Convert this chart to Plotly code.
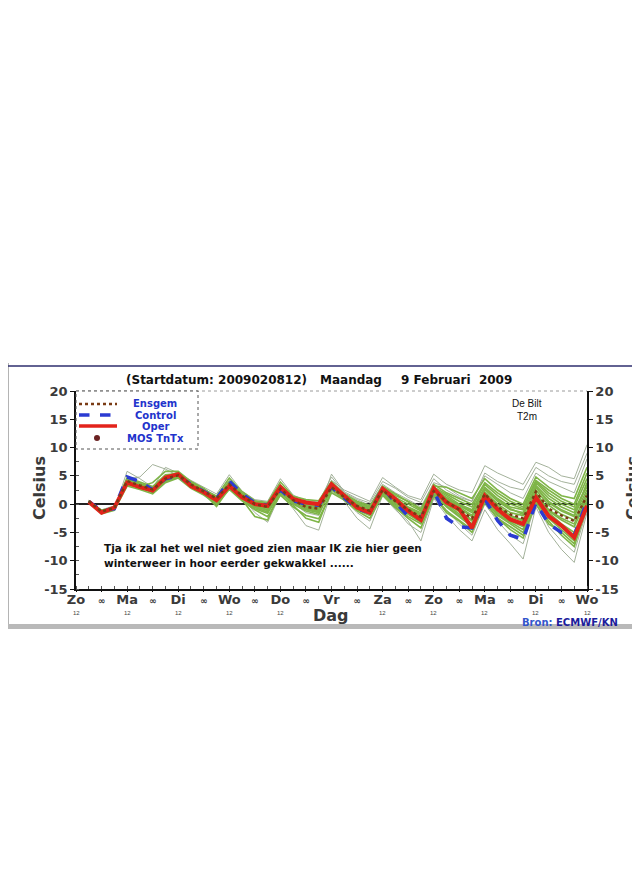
import plotly.graph_objects as go

# tijdas: uren na zondag 12 UTC (6-uurlijks)
hours = list(range(6, 241, 6))
day_hours = list(range(0, 241, 24))
day_labels = ['Zo', 'Ma', 'Di', 'Wo', 'Do', 'Vr', 'Za', 'Zo', 'Ma', 'Di', 'Wo']
night_hours = list(range(12, 240, 24))
y_ticks = [20, 15, 10, 5, 0, -5, -10, -15]

oper = [0.4, -1.5, -0.6, 3.8, 3.0, 2.4, 4.7, 5.3, 3.2, 2.1, 0.7, 3.2, 1.2, 0.0, -0.3, 3.0, 0.9, 0.3, 0.0, 3.5,
        1.5, -0.6, -1.5, 2.7, 0.9, -1.2, -2.8, 2.8, 0.3, -0.9, -4.2, 1.5, -0.9, -2.7, -3.5, 1.2, -2.1, -3.8, -5.9, -0.3]
control = [0.5, -1.2, -0.8, 4.8, 4.0, 2.5, 4.5, 5.0, 3.5, 2.3, 1.0, 4.1, 1.8, 0.2, -0.2, 2.5, 0.6, 0.0, -0.2, 3.0,
           1.0, -0.8, -1.5, 2.9, 0.3, -2.1, -2.5, 2.4, -2.5, -4.0, -4.2, 0.9, -2.9, -5.5, -6.2, 0.2, -3.5, -5.0, -5.5, 0.5]
ensgem = [0.5, -1.3, -0.7, 4.1, 3.3, 2.6, 4.5, 5.1, 3.5, 2.3, 1.0, 3.5, 1.5, 0.0, -0.5, 2.7, 0.7, -0.5, -0.8, 3.0,
          1.2, -0.3, -1.2, 2.5, 0.5, -1.0, -2.3, 2.3, 0.5, -1.0, -2.5, 1.8, -0.5, -1.8, -2.5, 2.2, -0.8, -2.0, -3.0, 1.5]

# ensemble leden (grijsgroen = uitschieters)
members_outlier = [
    [0.6, -1.2, -0.5, 4.5, 4.8, 7.0, 6.2, 5.0, 3.2, 2.0, 0.5, 3.0, 1.2, -0.5, -1.2, 2.2, 0.2, -1.5, -2.0, 2.8,
     0.5, -2.5, -4.4, 1.5, -1.0, -3.0, -6.5, 1.0, -2.0, -4.5, -6.5, -1.0, -4.5, -7.0, -9.7, -0.5, -5.0, -8.0, -10.3, -1.5],
    [0.5, -1.5, -0.9, 5.8, 4.5, 3.0, 5.0, 5.6, 3.8, 2.6, 1.5, 4.2, 2.0, 0.4, 0.2, 3.5, 1.0, 0.3, 0.0, 4.2,
     2.5, 1.5, 0.5, 4.7, 3.0, 1.5, 0.8, 5.3, 3.5, 2.5, 2.0, 6.8, 5.5, 4.5, 3.5, 7.4, 6.5, 5.0, 4.5, 10.5],
    [0.5, -1.1, -0.6, 4.6, 3.6, 2.8, 6.5, 5.5, 4.2, 3.0, 1.8, 5.2, 2.3, 0.8, 0.5, 4.5, 1.6, 0.6, 0.4, 4.8,
     2.0, 0.8, -0.2, 3.5, 2.0, 0.8, -0.5, 3.8, 3.0, 1.5, 0.5, 5.0, 3.5, 2.0, 1.0, 5.5, 4.0, 3.0, 2.0, 8.0],
    [0.5, -1.4, -0.5, 4.1, 3.2, 2.3, 4.5, 5.1, 3.4, 2.2, 0.9, 3.4, 1.3, -0.2, -0.8, 2.8, 0.6, -0.6, -1.0, 5.3,
     2.2, 1.0, 0.2, 4.0, 2.8, 1.2, 0.3, 4.5, 2.5, 1.2, 0.5, 5.5, 4.0, 3.0, 2.5, 6.5, 5.0, 4.0, 3.5, 9.0],
    [0.7, -1.0, -0.3, 3.8, 3.2, 2.4, 4.2, 5.0, 3.4, 2.2, 0.6, 3.3, 1.2, -1.5, -3.2, 1.8, -0.8, -3.8, -4.6, 2.2,
     0.8, -1.5, -3.0, 1.8, -0.8, -3.5, -5.0, 1.2, -1.0, -3.5, -5.5, 0.0, -3.0, -5.5, -7.0, 0.2, -4.0, -6.5, -8.5, -1.0],
]
members = [
    [0.4, -1.4, -0.4, 3.4, 3.0, 2.0, 4.0, 4.8, 3.0, 1.8, 0.2, 3.0, 1.0, -0.8, -1.6, 2.0, -0.2, -2.5, -3.2, 2.5,
     1.0, -1.0, -2.0, 2.0, -0.5, -2.2, -3.5, 1.5, -1.5, -3.0, -5.0, 0.5, -2.5, -4.5, -6.0, 0.5, -3.0, -5.5, -7.5, -0.5],
    [0.3, -1.6, -1.0, 4.2, 3.5, 2.7, 4.6, 5.2, 3.6, 2.4, 1.2, 3.8, 1.8, 0.2, -0.3, 3.2, 1.0, -0.2, -0.5, 3.6,
     1.3, 0.0, -0.8, 2.8, 1.0, -0.5, -1.5, 2.8, 1.5, 0.0, -1.0, 3.0, 1.0, -0.5, -1.0, 4.0, 2.0, 0.5, -0.5, 4.5],
    [0.5, -1.3, -0.8, 3.6, 2.8, 2.2, 4.3, 4.9, 3.1, 1.9, -0.4, 2.8, 0.8, -2.2, -2.8, 2.4, 0.0, -1.2, -1.8, 2.9,
     1.0, -0.5, -1.6, 2.3, 0.3, -1.5, -3.0, 2.0, 0.0, -1.8, -3.5, 1.2, -1.5, -3.0, -4.0, 1.5, -1.5, -3.5, -5.0, 0.5],
    [0.6, -1.4, -0.7, 4.4, 3.4, 2.5, 4.8, 5.4, 3.7, 2.6, 1.3, 3.6, 1.6, 0.1, -0.6, 3.0, 0.8, -0.4, -0.9, 3.3,
     1.4, 0.2, -0.6, 3.0, 1.5, 0.5, -0.8, 3.2, 3.0, 2.0, 1.0, 4.5, 2.5, 1.0, 0.0, 4.8, 3.0, 1.5, 1.0, 6.5],
    [0.4, -1.2, -0.6, 3.9, 3.1, 3.8, 5.8, 5.8, 4.0, 2.8, 1.0, 3.4, 1.4, -0.3, -1.0, 2.6, 0.4, -0.8, -1.2, 3.1,
     1.2, -0.2, -1.0, 2.4, 0.6, -0.8, -2.0, 2.5, 0.8, -0.5, -2.0, 2.2, 0.0, -1.5, -2.0, 3.0, 0.5, -1.0, -2.0, 2.5],
    [0.5, -1.5, -0.8, 4.0, 3.3, 2.6, 4.4, 5.0, 3.3, 2.1, 0.8, 3.1, 1.1, -0.6, -1.4, 2.3, 0.3, -1.0, -1.5, 2.6,
     0.9, -0.8, -1.8, 2.1, -0.2, -1.8, -3.2, 1.8, -0.5, -2.2, -4.0, 0.8, -2.0, -3.5, -5.0, 1.0, -2.5, -4.5, -6.5, -0.8],
    [0.6, -1.1, -0.5, 4.3, 3.5, 2.9, 4.7, 5.3, 3.6, 2.5, 1.4, 4.6, 2.2, 0.6, 0.3, 3.9, 1.4, 0.8, 0.6, 4.0,
     1.8, 0.5, -0.3, 3.2, 1.8, 0.3, -1.0, 3.5, 2.0, 1.0, 0.0, 3.8, 2.0, 0.5, -0.5, 4.2, 2.5, 1.0, 0.0, 5.5],
    [0.4, -1.7, -1.1, 3.2, 2.6, 1.8, 3.8, 4.6, 2.8, 1.6, 0.0, 2.6, 0.6, -1.0, -2.2, 1.6, -0.5, -2.0, -2.6, 2.0,
     0.7, -1.2, -2.5, 1.6, -0.6, -2.5, -4.2, 1.4, -1.2, -2.8, -4.5, 0.3, -2.5, -4.0, -5.5, 0.0, -3.5, -5.0, -7.0, 0.0],
    [0.5, -1.3, -0.7, 4.7, 3.9, 3.1, 5.2, 5.4, 3.9, 2.7, 1.1, 3.7, 1.7, 0.3, -0.4, 2.9, 0.9, 0.0, -0.3, 3.8,
     1.5, 0.0, -0.9, 2.6, 0.8, -0.6, -1.8, 2.6, 1.0, -0.3, -1.5, 2.6, 0.5, -1.0, -1.5, 3.3, 1.0, -0.5, -1.5, 3.5],
    [0.6, -1.2, -0.6, 3.5, 2.9, 2.4, 4.1, 4.7, 3.2, 2.0, 0.4, 3.2, 1.5, -0.4, -1.1, 2.5, 0.5, -0.9, -1.4, 2.7,
     1.1, -0.6, -1.4, 2.2, 0.2, -1.2, -2.5, 2.1, 0.2, -1.2, -2.8, 1.5, -1.0, -2.5, -3.5, 2.0, -1.0, -2.5, -3.5, 1.5],
    [0.4, -1.5, -0.9, 4.5, 3.7, 2.8, 4.9, 5.6, 3.8, 2.4, 1.1, 4.0, 1.9, 0.5, 0.0, 3.3, 1.2, 0.2, -0.1, 3.4,
     1.3, -0.1, -1.1, 2.7, 0.9, -0.9, -2.2, 2.4, 0.6, -0.8, -2.2, 2.0, -0.3, -2.0, -2.8, 2.5, -0.2, -1.8, -2.8, 2.0],
    [0.5, -1.3, -0.6, 4.2, 3.4, 2.7, 4.6, 5.0, 3.4, 2.3, 1.0, 3.6, 1.5, 0.0, -0.5, 2.8, 0.7, -0.4, -0.7, 3.1,
     1.2, -0.4, -1.3, 2.5, 0.4, -1.1, -2.4, 2.2, 0.3, -1.3, -3.0, 1.6, -0.8, -2.2, -3.0, 1.8, -1.2, -2.8, -4.0, 1.0],
    [0.6, -1.2, -0.7, 3.9, 3.2, 2.5, 4.4, 5.2, 3.6, 2.4, 1.2, 3.9, 1.7, 0.2, -0.2, 3.1, 0.8, -0.1, -0.4, 3.5,
     1.6, 0.3, -0.5, 2.9, 1.2, 0.0, -1.2, 3.0, 1.8, 0.5, -0.5, 3.5, 1.5, 0.0, -0.8, 3.8, 1.5, 0.0, -1.0, 3.0],
    [0.4, -1.4, -0.8, 4.3, 3.6, 2.6, 4.5, 5.3, 3.5, 2.2, 0.9, 3.3, 1.3, -0.2, -0.7, 2.6, 0.5, -0.7, -1.1, 2.8,
     1.0, -0.7, -1.7, 2.2, 0.1, -1.6, -2.9, 1.9, -0.3, -2.0, -3.8, 1.0, -1.8, -3.2, -4.5, 1.2, -2.0, -4.0, -5.5, -0.2],
    [0.5, -1.3, -0.7, 4.0, 3.3, 2.6, 4.4, 5.0, 3.5, 2.3, 1.0, 3.5, 1.5, -0.1, -0.6, 2.7, 0.6, -0.6, -0.9, 2.9,
     1.3, -0.2, -1.0, 2.6, 0.7, -0.7, -1.9, 2.6, 1.2, -0.2, -1.2, 2.8, 0.8, -0.8, -1.8, 3.0, 0.2, -1.2, -2.2, 3.8],
]

# plotgebied in beeldpixels: x 76..587, y 391..589 (pagina heeft 8px body-marge)
L, R, T, B = 76, 587, 391, 589
PAGE = 8


def px(x):
    return (x - L) / (R - L)


def py(y):
    return (B - y) / (B - T)


fig = go.Figure()

for m in members_outlier:
    fig.add_trace(go.Scatter(x=hours, y=m, mode='lines', showlegend=False,
                             line=dict(color='#98a88e', width=0.9)))
for m in members:
    fig.add_trace(go.Scatter(x=hours, y=m, mode='lines', showlegend=False,
                             line=dict(color='#7fb548', width=1.6)))

fig.add_trace(go.Scatter(x=hours, y=control, mode='lines', showlegend=False,
                         line=dict(color='#2b3bd2', width=3.5, dash='dash')))
fig.add_trace(go.Scatter(x=hours, y=oper, mode='lines', showlegend=False,
                         line=dict(color='#e3231b', width=4)))
fig.add_trace(go.Scatter(x=hours, y=ensgem, mode='lines', showlegend=False,
                         line=dict(color='#7a3b14', width=2.5, dash='dot')))

tickvals = []
ticktext = []
for h, d in zip(day_hours, day_labels):
    tickvals.append(h)
    ticktext.append(d)
for h in night_hours:
    tickvals.append(h)
    ticktext.append("<span style='font-size:9px'>∞</span>")
y_text = [str(v) for v in y_ticks]

bold = dict(family='DejaVu Sans', weight='bold')

fig.update_xaxes(range=[0, 240], tickvals=tickvals, ticktext=ticktext, ticklabelstandoff=-3,
                 showline=True, linecolor='#111', linewidth=1.5, showgrid=False, zeroline=False,
                 ticks='outside', ticklen=1, tickcolor='#111',
                 minor=dict(dtick=6, ticks='inside', ticklen=3, tickcolor='#555'),
                 tickfont=dict(size=13, color='#3a3a3a', **bold))
fig.update_yaxes(range=[-15, 20], tickvals=y_ticks, ticktext=y_text,
                 showline=True, linecolor='#111', linewidth=1.5,
                 showgrid=False, zeroline=True, zerolinecolor='#222', zerolinewidth=2,
                 ticks='outside', ticklen=4, tickcolor='#111',
                 minor=dict(dtick=2.5, ticks='inside', ticklen=3, tickcolor='#555'),
                 tickfont=dict(size=13, color='#3a3a3a', **bold))
fig.update_layout(
    yaxis2=dict(range=[-15, 20], tickvals=y_ticks, ticktext=y_text, overlaying='y', side='right', anchor='x',
                showline=True, linecolor='#111', linewidth=1.5, showgrid=False, zeroline=False,
                ticks='outside', ticklen=4, tickcolor='#111',
                tickfont=dict(size=13, color='#3a3a3a', **bold)),
)
# lege trace zodat de rechteras getekend wordt
fig.add_trace(go.Scatter(x=[None], y=[None], yaxis='y2', showlegend=False))

shapes = [
    # kader van de afbeelding
    dict(type='line', xref='paper', yref='paper', x0=px(8), x1=px(8), y0=py(363), y1=py(628),
         line=dict(color='#b4b4b4', width=2)),
    dict(type='line', xref='paper', yref='paper', x0=px(8), x1=px(645), y0=py(366), y1=py(366),
         line=dict(color='#2e2e6e', width=1.5)),
    dict(type='rect', xref='paper', yref='paper', x0=px(8), x1=px(645), y0=py(629), y1=py(624),
         fillcolor='#b9b9b9', line=dict(width=0)),
    # bovenrand plotgebied
    dict(type='line', xref='paper', yref='paper', x0=0, x1=1, y0=1, y1=1,
         line=dict(color='#9a9a9a', width=1, dash='dot')),
    # legenda kader
    dict(type='rect', xref='paper', yref='paper', x0=px(76), x1=px(198), y0=py(391), y1=py(449),
         fillcolor='white', line=dict(color='#555', width=1, dash='dot'), layer='above'),
    dict(type='line', xref='paper', yref='paper', x0=px(79), x1=px(117), y0=py(404), y1=py(404),
         line=dict(color='#7a3b14', width=2.5, dash='dot'), layer='above'),
    dict(type='line', xref='paper', yref='paper', x0=px(79), x1=px(117), y0=py(415), y1=py(415),
         line=dict(color='#2b3bd2', width=3.5, dash='dash'), layer='above'),
    dict(type='line', xref='paper', yref='paper', x0=px(79), x1=px(117), y0=py(426), y1=py(426),
         line=dict(color='#e3231b', width=3.5), layer='above'),
    dict(type='circle', xref='paper', yref='paper', x0=px(94), x1=px(100), y0=py(441), y1=py(435),
         fillcolor='#6b2222', line=dict(width=0), layer='above'),
]

annotations = []


def note(text, x, y, size=10, color='#111', xanchor='center', weight='bold', angle=0, family='DejaVu Sans'):
    annotations.append(dict(text=text, x=px(x), y=py(y), xref='paper', yref='paper', showarrow=False,
                            xanchor=xanchor, yanchor='middle', textangle=angle,
                            font=dict(family=family, size=size, color=color, weight=weight)))


note('(Startdatum: 2009020812)', 216, 380, size=12)
note('Maandag', 351, 380, size=12)
note('9 Februari  2009', 456, 380, size=12)
for text, yy in [('Ensgem', 403), ('Control', 415), ('Oper', 426), ('MOS TnTx', 438)]:
    note(text, 155, yy, size=10, color='#2233cc')
note('De Bilt', 527, 403, size=10, weight='normal', family='Liberation Sans')
note('T2m', 527, 416, size=10, weight='normal', family='Liberation Sans')
note('Tja ik zal het wel niet goed zien maar IK zie hier geen', 102, 548, size=10.5, xanchor='left')
note('winterweer in hoor eerder gekwakkel ......', 102, 563, size=10.5, xanchor='left')
note('Celsius', 39, 488, size=16, color='#3a3a3a', angle=-90)
note('Celsius', 632, 488, size=16, color='#3a3a3a', angle=-90)
note('Dag', 331, 615, size=16, color='#3a3a3a')
for h in day_hours:
    if h != 120:  # onder Vr staat 'Dag'
        note('12', L + h * (R - L) / 240, 613, size=6, color='#444', weight='normal', family='Liberation Sans')
note("<span style='color:#3355cc'>Bron: </span>ECMWF/KN", 520, 622, size=10, color='#1c1c9c', xanchor='left')

W, H = 640 - PAGE, 880 - PAGE
fig.update_layout(width=W, height=H,
                  margin=dict(l=L - PAGE, r=W - (R - PAGE), t=T - PAGE, b=H - (B - PAGE)),
                  paper_bgcolor='white', plot_bgcolor='white', showlegend=False,
                  shapes=shapes, annotations=annotations)

fig.write_html("out.html")
